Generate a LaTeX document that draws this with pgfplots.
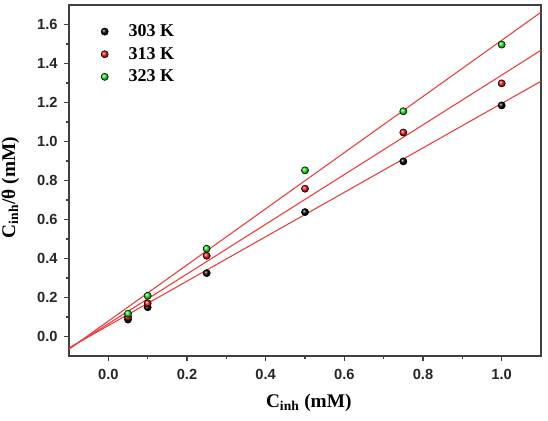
\documentclass[border=0pt]{standalone}
\usepackage{fontspec}
\setmainfont{Liberation Serif}
\newfontfamily\arialf{Liberation Sans}
\usepackage{pgfplots}
\pgfplotsset{compat=1.18}
\definecolor{fitred}{RGB}{235,60,60}
\definecolor{ballgreen}{RGB}{30,235,30}
\definecolor{ballred}{RGB}{240,20,20}
\begin{document}
\begin{tikzpicture}
\useasboundingbox (-51.75pt,-48pt) rectangle (359.25pt,267pt);
\begin{axis}[
  scale only axis, width=354pt, height=263.25pt,
  at={(0,0)}, anchor=south west,
  xmin=-0.1, xmax=1.1, ymin=-0.1, ymax=1.7,
  xtick={0,0.2,0.4,0.6,0.8,1.0},
  ytick={0,0.2,0.4,0.6,0.8,1.0,1.2,1.4,1.6},
  minor x tick num=1, minor y tick num=1,
  tick pos=left, tick align=outside,
  major tick length=3.5pt, minor tick length=2pt,
  tick style={line width=0.8pt, color=black!75},
  axis line style={line width=1pt, black!75},
  /pgf/number format/assume math mode=true,
  /pgf/number format/fixed, /pgf/number format/fixed zerofill, /pgf/number format/precision=1,
  ticklabel style={font=\arialf\bfseries\fontsize{11}{13}\selectfont, color=black!85},
  xticklabel style={yshift=-3pt},
  yticklabel style={xshift=-1.5pt},
  xlabel={C\textsubscript{inh} (mM)},
  ylabel={C\textsubscript{inh}/θ (mM)},
  label style={font=\bfseries\fontsize{14.5}{16}\selectfont},
  xlabel style={at={(axis description cs:0.508,0)}, anchor=center, yshift=-35pt},
  ylabel style={at={(axis description cs:-0.124,0.48)}, anchor=center},
  legend style={at={(axis description cs:0.058,0.96)}, anchor=north west, draw=none, fill=none,
    font=\bfseries\fontsize{13.5}{15}\selectfont, row sep=2.5pt},
  legend cell align=left,
  legend image code/.code={\draw[#1] plot coordinates {(0cm,0cm)}; \path (-0.1cm,0cm) (0.55cm,0cm);},
]
\addplot[fitred, line width=0.8pt, forget plot] coordinates {(-0.1,-0.058) (1.1,1.309)};
\addplot[fitred, line width=0.8pt, forget plot] coordinates {(-0.1,-0.062) (1.1,1.468)};
\addplot[fitred, line width=0.8pt, forget plot] coordinates {(-0.1,-0.065) (1.1,1.663)};
\addplot[only marks, mark=ball, mark size=2.7pt, ball color=black] coordinates {
  (0.05,0.087) (0.1,0.150) (0.25,0.325) (0.5,0.638) (0.75,0.898) (1.0,1.185)};
\addplot[only marks, mark=ball, mark size=2.7pt, ball color=ballred] coordinates {
  (0.05,0.100) (0.1,0.170) (0.25,0.414) (0.5,0.758) (0.75,1.046) (1.0,1.298)};
\addplot[only marks, mark=ball, mark size=2.7pt, ball color=ballgreen] coordinates {
  (0.05,0.117) (0.1,0.209) (0.25,0.450) (0.5,0.852) (0.75,1.155) (1.0,1.497)};
\legend{303 K, 313 K, 323 K}
\end{axis}
\end{tikzpicture}
\end{document}
